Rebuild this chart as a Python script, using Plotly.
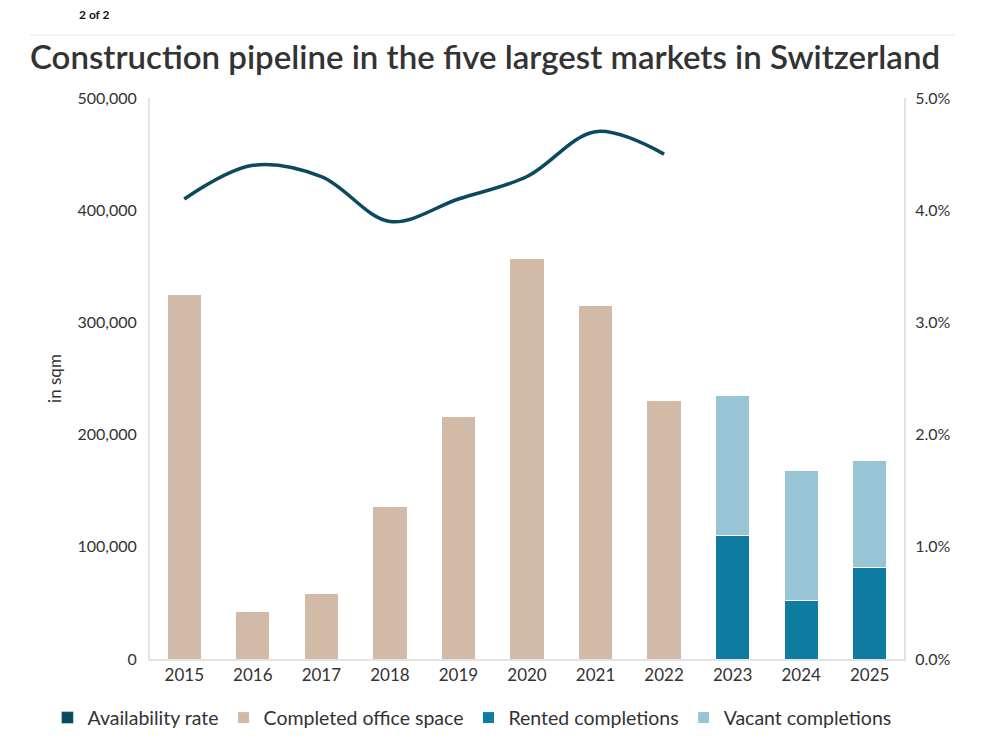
import plotly.graph_objects as go

years = ["2015", "2016", "2017", "2018", "2019", "2020", "2021", "2022", "2023", "2024", "2025"]

# completed office space (sqm), 2015-2022
completed = [325000, 42000, 58000, 136000, 216000, 357000, 315000, 230000, None, None, None]
# pipeline 2023-2025
rented = [None] * 8 + [110000, 52000, 82000]
vacant = [None] * 8 + [125000, 116000, 95000]
# availability rate, 2015-2022
availability = [0.041, 0.044, 0.043, 0.039, 0.041, 0.043, 0.047, 0.045]

FONT = "Lato"
GREY_TXT = "#333333"
AXIS_GREY = "#e3e3e3"
LINE_COL = "#0b4a5e"

fig = go.Figure()

# square legend swatch for the line, like the original
fig.add_trace(go.Bar(
    x=[None], y=[None], name="Availability rate",
    marker=dict(color=LINE_COL), legendrank=1,
))
fig.add_trace(go.Scatter(
    x=years[:8], y=availability, name="Availability rate", yaxis="y2",
    mode="lines", line=dict(color=LINE_COL, width=3.5, shape="spline", smoothing=1.0),
    showlegend=False,
))
fig.add_trace(go.Bar(
    x=years, y=completed, name="Completed office space",
    marker=dict(color="#d2baa8", line=dict(color="white", width=1)), legendrank=2,
))
fig.add_trace(go.Bar(
    x=years, y=rented, name="Rented completions",
    marker=dict(color="#0e7ba0", line=dict(color="white", width=1)), legendrank=3,
))
fig.add_trace(go.Bar(
    x=years, y=vacant, name="Vacant completions",
    marker=dict(color="#97c5d6", line=dict(color="white", width=1)), legendrank=4,
))

# page body has an 8px offset, so margins are shifted accordingly
fig.update_layout(
    width=982, height=742,
    margin=dict(l=142, r=86, t=90, b=91),
    paper_bgcolor="white", plot_bgcolor="white",
    barmode="stack", bargap=0.5,
    font=dict(family=FONT, size=16, color=GREY_TXT),
    showlegend=True,
    legend=dict(
        orientation="h", x=-0.136, xanchor="left", y=-0.105, yanchor="middle",
        font=dict(size=19.5, color=GREY_TXT), traceorder="normal",
        itemwidth=30,
    ),
    xaxis=dict(
        type="category", showline=True, linecolor=AXIS_GREY, linewidth=2,
        ticks="", showgrid=False, tickfont=dict(size=17),
    ),
    yaxis=dict(
        range=[0, 500000], dtick=100000, tickformat=",", showgrid=False,
        showline=True, linecolor=AXIS_GREY, linewidth=2, zeroline=False,
        ticks="outside", ticklen=8, tickcolor="white",
        title=dict(text="in sqm", font=dict(size=17), standoff=12),
    ),
    yaxis2=dict(
        overlaying="y", side="right", range=[0, 0.05], dtick=0.01,
        tickformat=".1%", showgrid=False, showline=True,
        linecolor=AXIS_GREY, linewidth=2, zeroline=False,
        ticks="outside", ticklen=6, tickcolor="white",
    ),
    title=dict(
        text="Construction pipeline in the five largest markets in Switzerland",
        x=22 / 982, xanchor="left", xref="container",
        y=1 - 49 / 742, yanchor="middle", yref="container",
        font=dict(family=FONT, size=33, color="#333333", weight=600),
    ),
)

fig.add_annotation(
    text="<b>2 of 2</b>", xref="paper", yref="paper",
    x=(78 - 150) / 754, y=(659 - 14) / 561, xanchor="left", yanchor="middle",
    showarrow=False, borderpad=0, font=dict(size=12, color="#111111"),
)
fig.add_shape(
    type="line", xref="paper", yref="paper",
    x0=(30 - 150) / 754, x1=(955 - 150) / 754,
    y0=(659 - 35) / 561, y1=(659 - 35) / 561,
    line=dict(color="#e8e8e8", width=1),
)

fig.write_html("out.html")
